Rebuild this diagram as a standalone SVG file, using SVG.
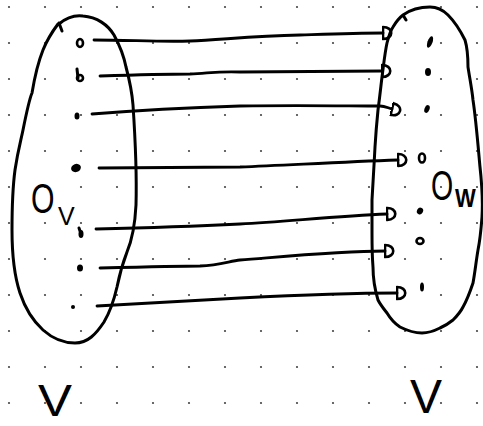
<svg xmlns="http://www.w3.org/2000/svg" width="483" height="426" viewBox="0 0 483 426">
  <defs>
    <pattern id="grid" patternUnits="userSpaceOnUse" x="-9" y="-11" width="36" height="36">
      <circle cx="18" cy="18" r="1.1" fill="#444"/>
    </pattern>
    <marker id="dhead" markerUnits="userSpaceOnUse" viewBox="0 0 14 16" markerWidth="14" markerHeight="16" refX="1" refY="8" orient="auto">
      <path d="M1,2 L1,14 M1,2 C12,2 12,14 1,14" fill="none" stroke="#000" stroke-width="2.6" stroke-linecap="round"/>
    </marker>
    <style>
      .ink { fill: none; stroke: #000; stroke-width: 3; stroke-linecap: round; stroke-linejoin: round; }
      .conn { fill: none; stroke: #000; stroke-width: 2.8; stroke-linecap: round; marker-end: url(#dhead); }
      .pt { fill: #000; }
      .ring { fill: #fff; stroke: #000; stroke-width: 2.6; }
      .lbl { font-family: "Liberation Sans", Arial, sans-serif; fill: #000; }
    </style>
  </defs>
  <rect width="483" height="426" fill="#fff"/>
  <rect width="483" height="426" fill="url(#grid)"/>

  <g id="set-ov">
    <path class="ink" d="M62,31 L59,23 M59,24 C66,18 75,15 83,16 C97,17 108,25 114,35 C120,46 124,57 126,67 C130,82 132,92 133,105 C135,135 137,170 136,205 C135,225 132,240 127,252 C122,265 119,277 117,287 C114,300 110,312 104,322 C96,334 88,343 75,343 C62,343 52,338 43,330 C32,320 25,308 20,293 C14,275 12,255 12,230 C12,200 13,185 15,170 C18,150 21,140 23,130 C27,110 29,100 32,93 C35,75 39,60 43,50 C47,40 52,32 58,24"/>
    <ellipse class="ring" cx="80" cy="43" rx="3" ry="4"/>
    <ellipse class="ring" cx="80" cy="78" rx="3" ry="3"/>
    <path class="ink" d="M77,69 L78,78" stroke-width="2.6"/>
    <ellipse class="pt" cx="77" cy="116" rx="2.5" ry="3.5"/>
    <ellipse class="pt" cx="76" cy="168" rx="5" ry="4" transform="rotate(-20 76 168)"/>
    <ellipse class="pt" cx="81" cy="234" rx="2.5" ry="4"/>
    <path class="ink" d="M79,228 L80,231" stroke-width="2.2"/>
    <ellipse class="pt" cx="80" cy="268" rx="3" ry="3.5"/>
    <circle class="pt" cx="73" cy="307" r="2"/>
    <text class="lbl" font-size="42" transform="translate(31 213) scale(0.72 1)">O</text>
    <text class="lbl" font-size="25" x="58" y="225">V</text>
  </g>

  <g id="set-ow">
    <path class="ink" d="M406,20 L403,15 C410,10 420,7 430,7 C437,7 443,10 448,15 C454,21 460,30 465,40 C468,50 468,58 468,67 C470,80 472,90 473,100 C476,120 478,145 480,167 C482,185 483,200 482,217 C481,230 480,240 478,250 C476,262 475,272 473,283 C470,292 467,300 463,307 C460,313 456,317 453,320 C448,324 445,326 440,328 C434,331 428,333 422,333 C414,333 406,330 400,327 C394,323 390,318 387,313 C383,308 380,304 378,300 C375,290 373,278 373,267 C372,255 372,245 372,233 C372,225 372,220 372,200 C373,185 374,165 375,147 C376,130 377,120 378,110 C380,95 381,85 382,77 C384,62 385,52 387,43 C389,35 391,30 393,27 C396,22 399,18 403,15"/>
    <ellipse class="pt" cx="430" cy="42" rx="2.5" ry="6" transform="rotate(20 430 42)"/>
    <ellipse class="pt" cx="428" cy="72" rx="3" ry="4"/>
    <ellipse class="pt" cx="427" cy="109" rx="2.5" ry="4" transform="rotate(20 427 109)"/>
    <ellipse class="ring" cx="422" cy="158" rx="3" ry="4.5"/>
    <ellipse class="pt" cx="420" cy="211" rx="3" ry="3.5" transform="rotate(30 420 211)"/>
    <ellipse class="ring" cx="420" cy="241" rx="3.5" ry="3"/>
    <ellipse class="pt" cx="422" cy="287" rx="2" ry="4.5"/>
    <text class="lbl" font-size="42" transform="translate(431 200) scale(0.68 1)">O</text>
    <text class="lbl" font-size="25" font-weight="bold" transform="translate(455 207) scale(0.88 1)">W</text>
  </g>

  <g id="connectors">
    <path class="conn" d="M94,40 C130,40 160,42 190,41 C220,40 250,36 300,35 C330,34 355,33 383,33"/>
    <path class="conn" d="M100,76 C130,75 160,74 190,74 C210,73 220,71 240,72 C290,72 340,71 382,71"/>
    <path class="conn" d="M92,114 C130,111 180,108 240,106 C300,105 350,106 380,106 C385,106 388,108 392,109"/>
    <path class="conn" d="M99,168 C160,168 200,167 240,167 C290,165 340,162 398,160"/>
    <path class="conn" d="M96,229 C140,228 200,226 240,224 C290,221 340,216 387,214"/>
    <path class="conn" d="M100,268 C140,267 180,266 200,266 C220,265 230,261 240,260 C290,256 340,251 385,251"/>
    <path class="conn" d="M97,306 C150,303 200,300 240,298 C300,295 350,293 397,293"/>
  </g>

  <g id="labels">
    <text class="lbl" x="38" y="416" font-size="44" textLength="34" lengthAdjust="spacingAndGlyphs">V</text>
    <text class="lbl" x="410" y="413" font-size="48">V</text>
  </g>
</svg>
